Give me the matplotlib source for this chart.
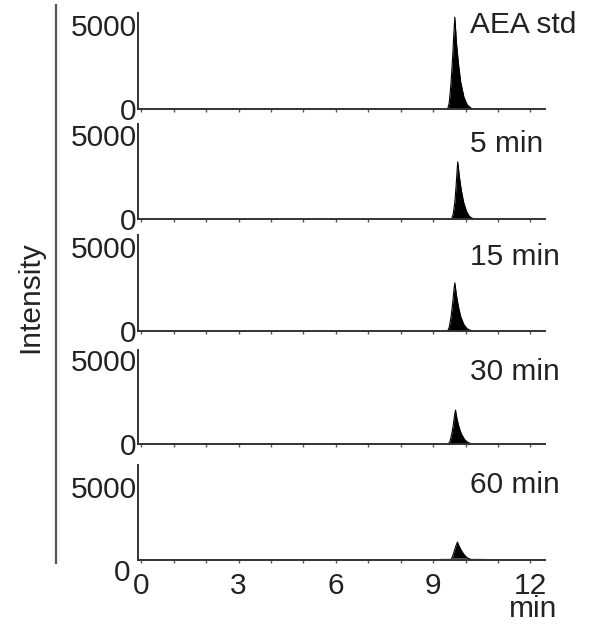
import matplotlib
matplotlib.use("Agg")
import matplotlib.pyplot as plt
import matplotlib.ticker as mticker
from matplotlib.lines import Line2D
from matplotlib.transforms import ScaledTranslation

plt.rcParams.update({
    "font.family": ["Liberation Sans", "DejaVu Sans"],
    "font.size": 21.5,
})

# --- data ---
panel_labels = ["AEA std", "5 min", "15 min", "30 min", "60 min"]

aea_t = [9.45, 9.50, 9.55, 9.60, 9.64, 9.67, 9.72, 9.78, 9.85, 9.95, 10.05, 10.20]
aea_i = [0, 400, 1500, 3000, 4500, 5450, 3900, 2700, 1600, 700, 250, 0]

t5 = [9.57, 9.62, 9.67, 9.71, 9.74, 9.76, 9.81, 9.87, 9.94, 10.03, 10.12, 10.25]
i5 = [0, 300, 1000, 2000, 2900, 3400, 2500, 1700, 1000, 450, 150, 0]

t15 = [9.45, 9.50, 9.55, 9.60, 9.64, 9.67, 9.72, 9.78, 9.85, 9.95, 10.05, 10.20]
i15 = [0, 250, 800, 1600, 2400, 2860, 2100, 1450, 850, 380, 130, 0]

t30 = [9.47, 9.52, 9.57, 9.62, 9.66, 9.69, 9.74, 9.80, 9.87, 9.97, 10.07, 10.22]
i30 = [0, 150, 550, 1100, 1700, 2020, 1450, 1000, 600, 270, 90, 0]

t60 = [9.55, 9.60, 9.65, 9.70, 9.75, 9.80, 9.87, 9.95, 10.05, 10.20]
i60 = [0, 250, 600, 950, 1230, 950, 650, 380, 150, 0]

# faint raised baseline in the 60 min trace
t60_bg = [9.05, 9.30, 10.50, 10.85]
i60_bg = [0, 50, 50, 0]

traces = [(aea_t, aea_i), (t5, i5), (t15, i15), (t30, i30), (t60, i60)]
y_top = [5700, 5650, 5700, 5600, 6500]

x_ticks = [0, 3, 6, 9, 12]
y_ticks = [0, 5000]

# --- layout (pixel boxes of the panels) ---
W, H = 593, 625
fig = plt.figure(figsize=(W / 100, H / 100), dpi=100)
left_px, right_px = 138, 545
panel_px = [(13, 109), (124, 219), (235, 331), (350, 444), (465, 560)]
label_base_px = [33, 152, 265, 380, 493]

axes = []
for k, (top, bot) in enumerate(panel_px):
    ax = fig.add_axes([left_px / W, 1 - bot / H,
                       (right_px - left_px) / W, (bot - top) / H])
    t, inten = traces[k]
    if k == 4:
        ax.plot(t60_bg, i60_bg, color="#bbbbbb", lw=1.0)
    ax.fill_between(t, 0, inten, color="black", lw=0)
    ax.plot(t, inten, color="black", lw=0.8)

    ax.set_xlim(-0.1, 12.45)
    ax.set_ylim(0, y_top[k])
    ax.set_xticks(x_ticks)
    ax.xaxis.set_minor_locator(mticker.MultipleLocator(1))
    ax.set_yticks(y_ticks)
    ax.set_yticklabels([str(v) for v in y_ticks])

    for s in ("top", "right"):
        ax.spines[s].set_visible(False)
    for s in ("left", "bottom"):
        ax.spines[s].set_color("#333333")
        ax.spines[s].set_linewidth(1.4)

    ax.tick_params(axis="y", length=0, pad=1, colors="#222222")
    ax.tick_params(axis="x", which="both", direction="out", length=2.5,
                   width=1.0, color="#555555", pad=6, labelcolor="#222222")
    if k < 4:
        ax.tick_params(axis="x", labelbottom=False)

    fig.text(470 / W, 1 - label_base_px[k] / H, panel_labels[k],
             ha="left", va="baseline", color="#222222")
    axes.append(ax)

# bottom panel: its "0" sits lower and further left in the original
ax = axes[-1]
zero_lbl = ax.yaxis.get_major_ticks()[0].label1
zero_lbl.set_verticalalignment("top")
zero_lbl.set_transform(zero_lbl.get_transform()
                       + ScaledTranslation(-0.06, 0.01, fig.dpi_scale_trans))
ax.annotate("min", xy=(12.1, 0), xycoords=("data", "axes fraction"),
            xytext=(0, -35.5), textcoords="offset points",
            ha="center", va="center", color="#222222")

# shared y label and long vertical bar
fig.text(30 / W, 1 - 297 / H, "Intensity", rotation=90,
         ha="center", va="center", color="#222222")
fig.add_artist(Line2D([56 / W, 56 / W], [1 - 563 / H, 1 - 5 / H],
                      transform=fig.transFigure, color="#555555", lw=1.6))

fig.savefig("out.png", dpi=100)
